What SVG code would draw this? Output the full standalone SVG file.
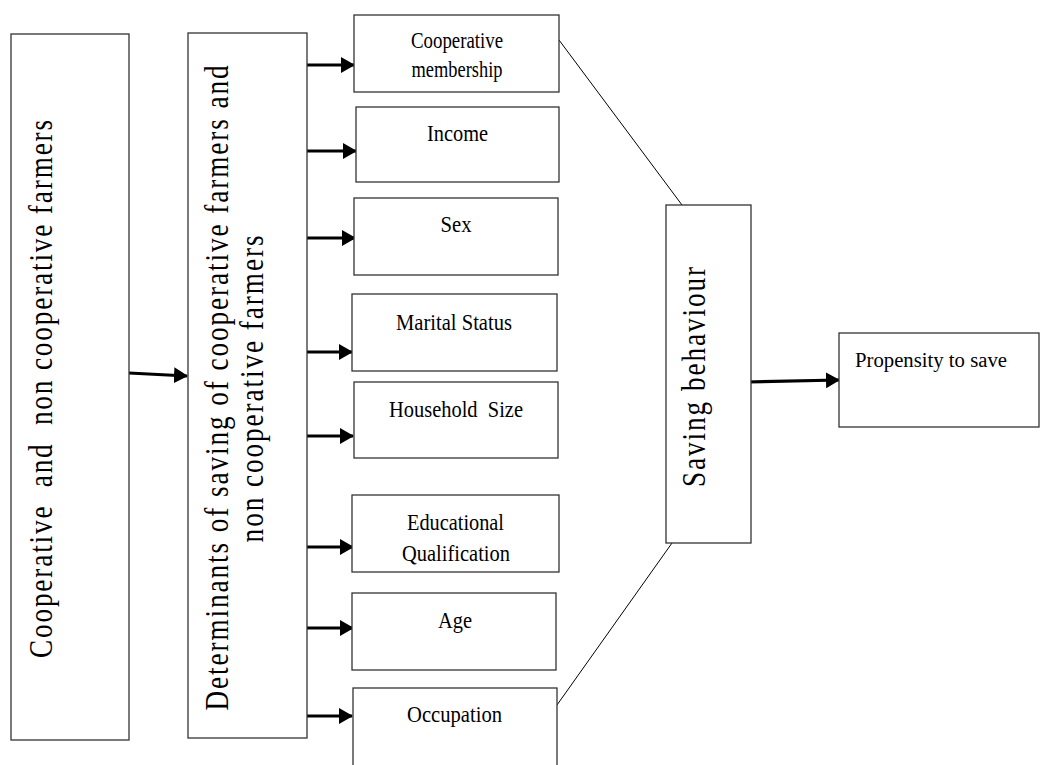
<svg xmlns="http://www.w3.org/2000/svg" width="1042" height="765" viewBox="0 0 1042 765">
<style>
.box{fill:#fff;stroke:#333;stroke-width:1.3}
.lbl{font-family:"Liberation Serif","Times New Roman",serif;font-size:24px;fill:#000;text-anchor:middle}
.big{font-family:"Liberation Serif","Times New Roman",serif;font-size:34px;fill:#000;text-anchor:middle;letter-spacing:2.4px}
.arr{stroke:#000;stroke-width:3.2;fill:none;marker-end:url(#ah)}
.thin{stroke:#000;stroke-width:1;fill:none}
</style>
<defs>
<marker id="ah" markerUnits="userSpaceOnUse" markerWidth="14" markerHeight="16" refX="13" refY="8" orient="auto">
<path d="M0,0 L14,8 L0,16 z" fill="#000"/>
</marker>
</defs>
<rect width="1042" height="765" fill="#fff"/>
<g id="connectors">
<line class="arr" x1="129" y1="373" x2="187" y2="376"/>
<line class="arr" x1="303" y1="65" x2="354" y2="65"/>
<line class="arr" x1="305" y1="151" x2="356" y2="151"/>
<line class="arr" x1="307" y1="238" x2="355" y2="238"/>
<line class="arr" x1="307" y1="352" x2="352" y2="352"/>
<line class="arr" x1="302" y1="436" x2="353" y2="436"/>
<line class="arr" x1="304" y1="547" x2="353" y2="547"/>
<line class="arr" x1="306" y1="628" x2="353" y2="628"/>
<line class="arr" x1="301" y1="716" x2="352" y2="716"/>
<line class="arr" x1="747" y1="382" x2="839" y2="380"/>
<line class="thin" x1="559" y1="40" x2="682" y2="205"/>
<line class="thin" x1="557" y1="705" x2="672" y2="543"/>
</g>
<g id="farmers">
<rect class="box" x="11" y="34" width="118" height="706"/>
<text class="big" transform="translate(52,388) rotate(-90) scale(0.8,1)" textLength="675" lengthAdjust="spacing" letter-spacing="2.3" xml:space="preserve" style="white-space:pre">Cooperative  and  non cooperative farmers</text>
</g>
<g id="determinants">
<rect class="box" x="188" y="33" width="119" height="705"/>
<text class="big" transform="translate(228,387) rotate(-90) scale(0.8,1)" textLength="809" lengthAdjust="spacing">Determinants of saving of cooperative farmers and</text>
<text class="big" transform="translate(263,388) rotate(-90) scale(0.8,1)" textLength="386" lengthAdjust="spacing">non cooperative farmers</text>
</g>
<g id="membership">
<rect class="box" x="354" y="15" width="205" height="77"/>
<text class="lbl" x="457" y="48" textLength="92" lengthAdjust="spacingAndGlyphs">Cooperative</text>
<text class="lbl" x="457" y="77" textLength="91" lengthAdjust="spacingAndGlyphs">membership</text>
</g>
<g id="income">
<rect class="box" x="356" y="107" width="203" height="75"/>
<text class="lbl" x="457.5" y="141" textLength="61" lengthAdjust="spacingAndGlyphs">Income</text>
</g>
<g id="sex">
<rect class="box" x="354" y="198" width="204" height="77"/>
<text class="lbl" x="456" y="232" textLength="31" lengthAdjust="spacingAndGlyphs">Sex</text>
</g>
<g id="marital">
<rect class="box" x="352" y="294" width="205" height="77"/>
<text class="lbl" x="454" y="330" textLength="116" lengthAdjust="spacingAndGlyphs">Marital Status</text>
</g>
<g id="household">
<rect class="box" x="354" y="382" width="204" height="76"/>
<text class="lbl" x="456" y="417" textLength="134" lengthAdjust="spacingAndGlyphs" xml:space="preserve" style="white-space:pre">Household  Size</text>
</g>
<g id="education">
<rect class="box" x="352" y="495" width="207" height="77"/>
<text class="lbl" x="455.5" y="530" textLength="97" lengthAdjust="spacingAndGlyphs">Educational</text>
<text class="lbl" x="456" y="561" textLength="108" lengthAdjust="spacingAndGlyphs">Qualification</text>
</g>
<g id="age">
<rect class="box" x="352" y="593" width="204" height="77"/>
<text class="lbl" x="455" y="628" textLength="34" lengthAdjust="spacingAndGlyphs">Age</text>
</g>
<g id="occupation">
<rect class="box" x="353" y="688" width="204" height="90"/>
<text class="lbl" x="454.5" y="722" textLength="95" lengthAdjust="spacingAndGlyphs">Occupation</text>
</g>
<g id="saving">
<rect class="box" x="666" y="205" width="85" height="338"/>
<text class="big" transform="translate(705,376) rotate(-90) scale(0.8,1)" textLength="277.5" lengthAdjust="spacing">Saving behaviour</text>
</g>
<g id="propensity">
<rect class="box" x="839" y="333" width="200" height="94"/>
<text x="855" y="367" font-family="Liberation Serif, Times New Roman, serif" font-size="20.5" textLength="152" lengthAdjust="spacingAndGlyphs">Propensity to save</text>
</g>
</svg>
